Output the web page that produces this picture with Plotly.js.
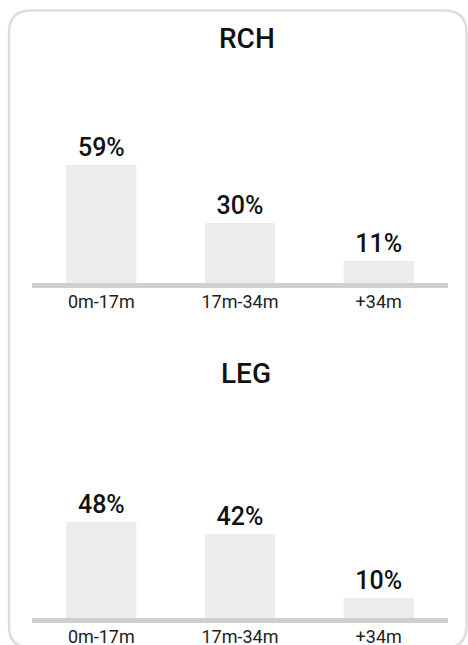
<!DOCTYPE html>
<html>
<head>
<meta charset="utf-8">
<script src="https://cdn.plot.ly/plotly-3.0.1.min.js"></script>
<style>
  html, body { margin: 0; padding: 0; background: #ffffff; }
  #chart { width: 468px; height: 645px; }
</style>
</head>
<body>
<div id="chart"></div>
<script>
// ---- data ----
const categories = ['0m-17m', '17m-34m', '+34m'];
const rchValues = [59, 30, 11];
const legValues = [48, 42, 10];
const chartTitles = ['RCH', 'LEG'];

// ---- helpers ----
const W = 468, H = 645;
const px = x => x / W;
const py = y => 1 - y / H;
const FONT = 'Roboto, "Noto Sans", sans-serif';

function barTrace(values, xa, ya) {
  return {
    type: 'bar',
    x: categories,
    y: values,
    xaxis: xa,
    yaxis: ya,
    text: values.map(v => v + '%'),
    textposition: 'outside',
    cliponaxis: false,
    textfont: { family: FONT, size: 25, color: '#111111', weight: 500 },
    marker: { color: '#ececec' },
    hoverinfo: 'none'
  };
}

const xCommon = {
  showline: true,
  linecolor: '#cfcfcf',
  linewidth: 5,
  ticks: '',
  ticklabelstandoff: -2,
  showgrid: false,
  zeroline: false,
  tickfont: { family: FONT, size: 18, color: '#222222' },
  fixedrange: true
};
const yCommon = {
  range: [0, 70],
  visible: false,
  showgrid: false,
  zeroline: false,
  fixedrange: true
};

// rounded card outline (paper coords)
function cardPath(x0, y0, x1, y1, r) {
  const rx = r / W, ry = r / H;
  const X0 = px(x0), X1 = px(x1), Y0 = py(y0), Y1 = py(y1);
  return 'M ' + (X0 + rx) + ' ' + Y0 +
    ' L ' + (X1 - rx) + ' ' + Y0 +
    ' Q ' + X1 + ' ' + Y0 + ' ' + X1 + ' ' + (Y0 - ry) +
    ' L ' + X1 + ' ' + (Y1 + ry) +
    ' Q ' + X1 + ' ' + Y1 + ' ' + (X1 - rx) + ' ' + Y1 +
    ' L ' + (X0 + rx) + ' ' + Y1 +
    ' Q ' + X0 + ' ' + Y1 + ' ' + X0 + ' ' + (Y1 + ry) +
    ' L ' + X0 + ' ' + (Y0 - ry) +
    ' Q ' + X0 + ' ' + Y0 + ' ' + (X0 + rx) + ' ' + Y0 + ' Z';
}

const layout = {
  width: W,
  height: H,
  margin: { l: 0, r: 0, t: 0, b: 0 },
  paper_bgcolor: '#ffffff',
  plot_bgcolor: 'rgba(0,0,0,0)',
  showlegend: false,
  bargap: 0.495,
  font: { family: FONT },
  xaxis: Object.assign({}, xCommon, { domain: [px(32), px(448)], anchor: 'y' }),
  yaxis: Object.assign({}, yCommon, { domain: [py(283), py(143)], anchor: 'x' }),
  xaxis2: Object.assign({}, xCommon, { domain: [px(32), px(448)], anchor: 'y2' }),
  yaxis2: Object.assign({}, yCommon, { domain: [py(618), py(478)], anchor: 'x2' }),
  shapes: [{
    type: 'path',
    xref: 'paper', yref: 'paper',
    path: cardPath(9, 10.5, 466.5, 648, 22),
    line: { color: '#dddddd', width: 2.5 },
    fillcolor: 'rgba(0,0,0,0)',
    layer: 'below'
  }],
  annotations: [
    { text: chartTitles[0], xref: 'paper', yref: 'paper', x: px(247), y: py(38.5),
      xanchor: 'center', yanchor: 'middle', showarrow: false,
      font: { family: FONT, size: 28, color: '#111111', weight: 500 } },
    { text: chartTitles[1], xref: 'paper', yref: 'paper', x: px(246), y: py(373.5),
      xanchor: 'center', yanchor: 'middle', showarrow: false,
      font: { family: FONT, size: 28, color: '#111111', weight: 500 } }
  ]
};

Plotly.newPlot('chart', [barTrace(rchValues, 'x', 'y'), barTrace(legValues, 'x2', 'y2')], layout,
  { displayModeBar: false, staticPlot: true });
</script>
</body>
</html>
